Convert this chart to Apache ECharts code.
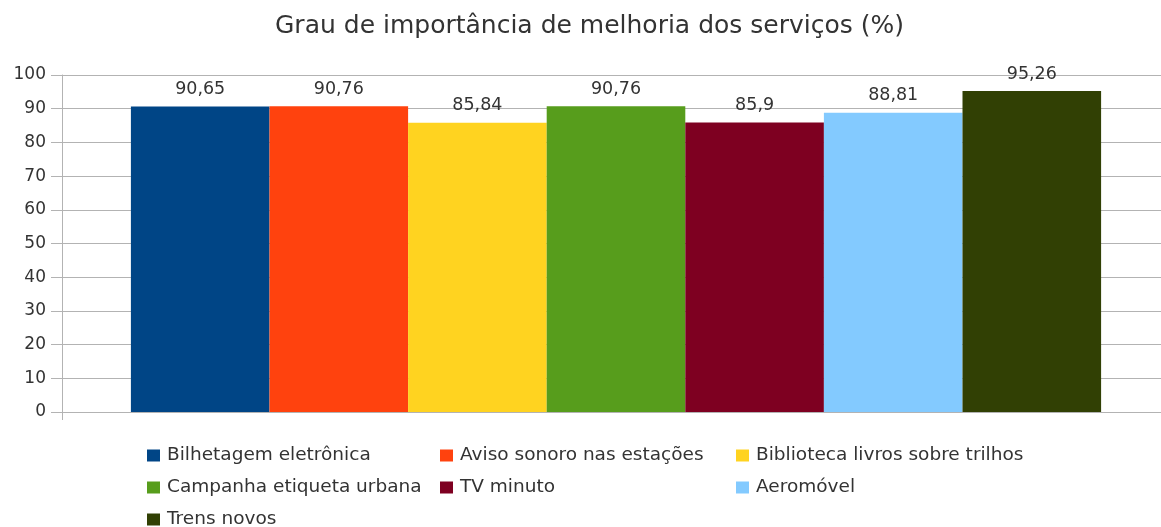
<!DOCTYPE html>
<html>
<head>
<meta charset="utf-8">
<script src="https://cdn.jsdelivr.net/npm/echarts@6/dist/echarts.min.js"></script>
<style>
  html, body { margin: 0; padding: 0; background: #ffffff; }
  #chart { width: 1161px; height: 527px; }
</style>
</head>
<body>
<div id="chart"></div>
<script>
const titleText = 'Grau de importância de melhoria dos serviços (%)';
const categories = ['Serviços'];
const seriesNames = [
  'Bilhetagem eletrônica',
  'Aviso sonoro nas estações',
  'Biblioteca livros sobre trilhos',
  'Campanha etiqueta urbana',
  'TV minuto',
  'Aeromóvel',
  'Trens novos'
];
const seriesValues = [90.65, 90.76, 85.84, 90.76, 85.9, 88.81, 95.26];
const seriesColors = ['#004586', '#ff420e', '#ffd320', '#579d1c', '#7e0021', '#83caff', '#314004'];
const yMin = 0, yMax = 100, yStep = 10;

const FONT = 'DejaVu Sans';
const TEXT = '#333333';
const GRID = '#b3b3b3';

// legend placement (column x of marker, row top)
const legendCols = [147, 440, 736];
const legendRows = [446, 478, 510];
const legendSlots = [[0, 0], [1, 0], [2, 0], [0, 1], [1, 1], [2, 1], [0, 2]];

const chart = echarts.init(document.getElementById('chart'), null, { renderer: 'canvas' });

const series = seriesNames.map((name, i) => ({
  name: name,
  type: 'bar',
  data: [seriesValues[i]],
  barWidth: 138.6,
  barGap: '0%',
  itemStyle: { color: seriesColors[i] },
  label: {
    show: true,
    position: 'top',
    distance: 8,
    color: TEXT,
    fontFamily: FONT,
    fontSize: 17.5,
    formatter: p => String(p.value).replace('.', ',')
  },
  emphasis: { disabled: true },
  animation: false
}));

const legends = seriesNames.map((name, i) => ({
  orient: 'horizontal',
  icon: 'rect',
  itemWidth: 13,
  itemHeight: 12,
  padding: 0,
  left: legendCols[legendSlots[i][0]],
  top: legendRows[legendSlots[i][1]],
  selectedMode: false,
  data: [name],
  textStyle: { fontFamily: FONT, fontSize: 18.5, color: TEXT, lineHeight: 18, padding: [0, 0, 0, 2] }
}));

chart.setOption({
  backgroundColor: '#ffffff',
  animation: false,
  title: {
    text: titleText,
    left: 275,
    top: 14,
    padding: 0,
    textStyle: { fontFamily: FONT, fontSize: 25, fontWeight: 'normal', color: TEXT }
  },
  legend: legends,
  grid: { left: 62, width: 1108, top: 75, bottom: 115, containLabel: false, outerBoundsMode: 'none' },
  xAxis: {
    type: 'category',
    data: categories,
    axisLine: { show: true, lineStyle: { color: GRID, width: 1 } },
    axisTick: { show: true, length: 8, lineStyle: { color: GRID } },
    axisLabel: { show: false },
    splitLine: { show: false }
  },
  yAxis: {
    type: 'value',
    min: yMin,
    max: yMax,
    interval: yStep,
    axisLine: { show: true, lineStyle: { color: GRID, width: 1 } },
    axisTick: { show: true, length: 11, lineStyle: { color: GRID } },
    axisLabel: { color: TEXT, fontFamily: FONT, fontSize: 17, margin: 16 },
    splitLine: { show: true, lineStyle: { color: GRID, width: 1 } }
  },
  series: series
});
</script>
</body>
</html>
